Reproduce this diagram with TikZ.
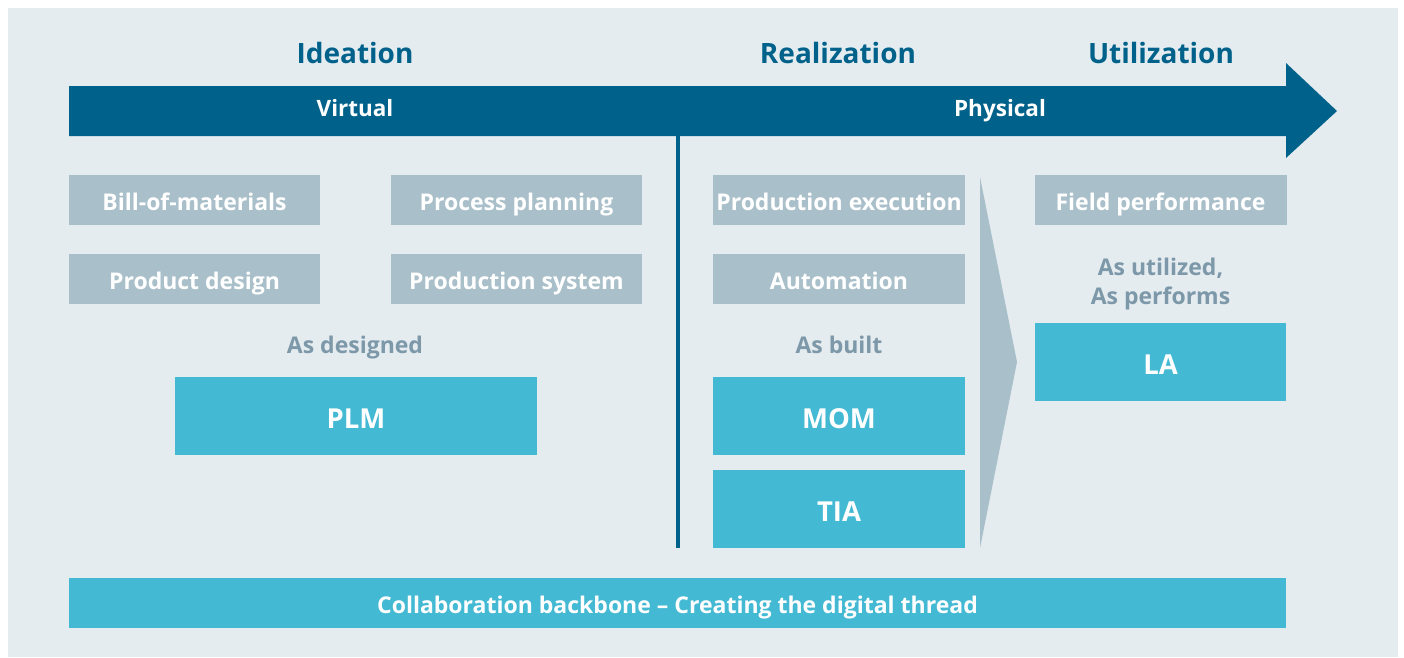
\documentclass[tikz,border=0pt]{standalone}
\usepackage{fontspec}
\setmainfont{Open Sans}
\definecolor{bgc}{HTML}{E4ECF0}
\definecolor{dblue}{HTML}{00628A}
\definecolor{gbox}{HTML}{A9BFC9}
\definecolor{cyan}{HTML}{43B9D3}
\definecolor{gtext}{HTML}{7D98A8}
\tikzset{
  px/.style={x=1pt,y=-1pt},
  greybox/.style={rectangle, fill=gbox, inner sep=0pt, minimum width=251pt, minimum height=50pt, text=white, text height=20pt, text depth=0pt, font=\fontsize{23}{26}\selectfont\bfseries},
  cyanbox/.style={rectangle, fill=cyan, inner sep=0pt, minimum width=252pt, minimum height=78pt, text=white, text height=24pt, text depth=0pt, font=\fontsize{27.5}{30}\selectfont\bfseries},
  header/.style={text=dblue, inner sep=0pt, anchor=base, font=\fontsize{28}{30}\selectfont\bfseries},
  sublabel/.style={text=gtext, inner sep=0pt, anchor=base, font=\fontsize{23}{26}\selectfont\bfseries},
  arrowlabel/.style={text=white, inner sep=0pt, anchor=base, font=\fontsize{22.5}{24}\selectfont\bfseries}
}
\begin{document}
\begin{tikzpicture}[px]
\useasboundingbox (0,0) rectangle (1404,657);
\fill[white] (0,0) rectangle (1404,657);
\fill[bgc] (8,8) rectangle (1398,657);
% main arrow
\fill[dblue] (69,86) -- (1286,86) -- (1286,63) -- (1337,111) -- (1286,158) -- (1286,136) -- (69,136) -- cycle;
% vertical divider
\coordinate (vtop) at (678,136);
\coordinate (vbot) at (678,548);
\draw[dblue, line width=4pt] (vtop) -- (vbot);
% chevron
\fill[gbox] (980,177) -- (1017,362) -- (980,548) -- cycle;
% headers
\node[header] (ideation) at (355,63) {Ideation};
\node[header] (realization) at (838,63) {Realization};
\node[header] (utilization) at (1161,63) {Utilization};
\node[arrowlabel] (virtual) at (355,116) {Virtual};
\node[arrowlabel] (physical) at (1000,116) {Physical};
% grey boxes
\node[greybox] (bom) at (194.5,200) {Bill-of-materials};
\node[greybox] (pp) at (516.5,200) {Process planning};
\node[greybox] (pd) at (194.5,279) {Product design};
\node[greybox] (ps) at (516.5,279) {Production system};
\node[greybox, minimum width=252pt] (pe) at (839,200) {Production execution};
\node[greybox, minimum width=252pt] (auto) at (839,279) {Automation};
\node[greybox, minimum width=252pt] (fp) at (1160.5,200) {Field performance};
% sublabels
\node[sublabel] (asd) at (355,353) {As designed};
\node[sublabel] (asb) at (839,353) {As built};
\node[sublabel] (asu1) at (1160.5,275) {As utilized,};
\node[sublabel] (asu2) at (1160.5,304) {As performs};
% cyan boxes
\node[cyanbox, minimum width=362pt] (plm) at (356,416) {PLM};
\node[cyanbox] (mom) at (839,416) {MOM};
\node[cyanbox] (tia) at (839,509) {TIA};
\node[cyanbox, minimum width=251pt] (la) at (1160.5,362) {LA};
\node[cyanbox, minimum width=1217pt, minimum height=50pt, text height=20pt, font=\fontsize{23}{26}\selectfont\bfseries] (collab) at (677.5,603) {Collaboration backbone – Creating the digital thread};
\end{tikzpicture}
\end{document}
